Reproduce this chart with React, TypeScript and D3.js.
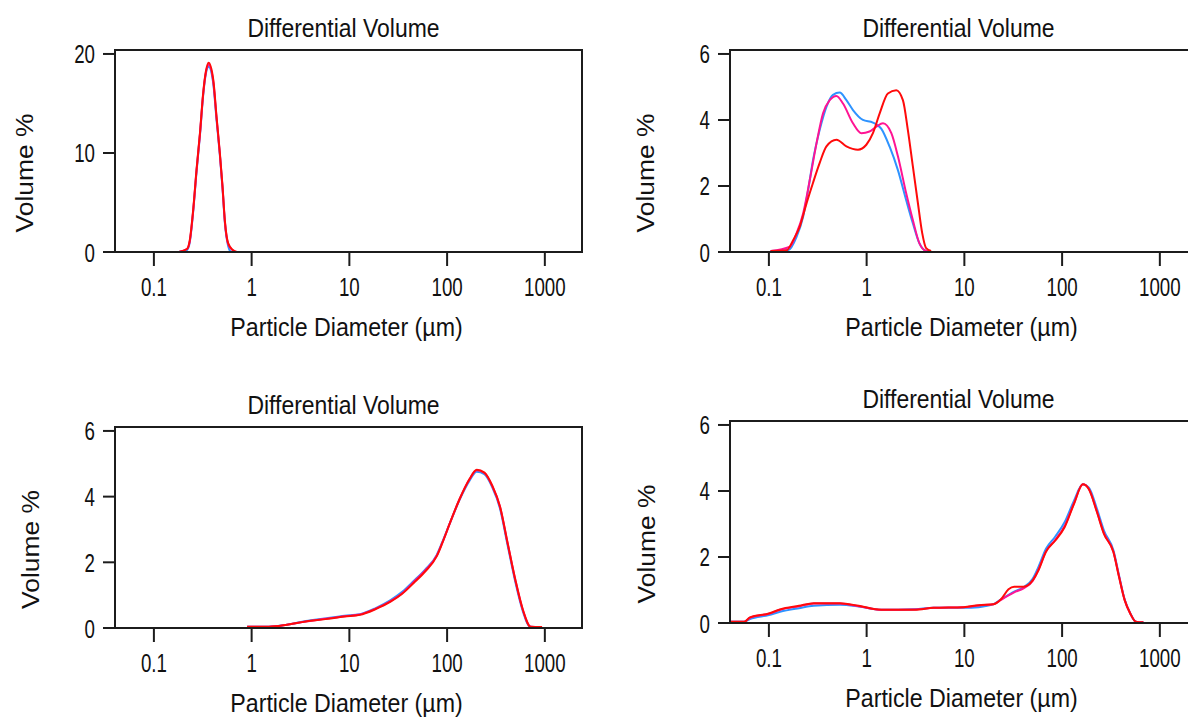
import React from 'react';
import * as d3 from 'd3';

// ---------- data ----------
const X_TICK_VALUES = [0.1, 1, 10, 100, 1000];
const X_TICK_LABELS = ['0.1', '1', '10', '100', '1000'];
const X_DOMAIN: [number, number] = [0.04, 2400];

const TITLE = 'Differential Volume';
const X_TITLE = 'Particle Diameter (\u00b5m)';
const Y_TITLE = 'Volume %';

const P1_Y_TICKS = [0, 10, 20];
const P2_Y_TICKS = [0, 2, 4, 6];
const P3_Y_TICKS = [0, 2, 4, 6];
const P4_Y_TICKS = [0, 2, 4, 6];

// Panel 1
const P1_BLUE_D = [0.18, 0.218, 0.233, 0.252, 0.273, 0.296, 0.319, 0.34, 0.363, 0.405, 0.438, 0.473, 0.504, 0.532, 0.575, 0.61];
const P1_BLUE_V = [0, 0.2, 1.0, 4.0, 8.1, 11.8, 15.8, 18.0, 18.7, 17.0, 13.3, 9.8, 6.4, 3.0, 0.6, 0];
const P1_PINK_D = [0.18, 0.218, 0.233, 0.252, 0.273, 0.296, 0.319, 0.34, 0.363, 0.405, 0.438, 0.473, 0.504, 0.532, 0.575, 0.643, 0.7];
const P1_PINK_V = [0, 0.3, 1.1, 4.1, 8.2, 11.9, 15.9, 18.1, 18.9, 17.2, 13.5, 9.9, 6.5, 3.1, 0.8, 0.15, 0];
const P1_RED_D = [0.18, 0.218, 0.233, 0.252, 0.273, 0.296, 0.319, 0.34, 0.363, 0.405, 0.438, 0.473, 0.504, 0.532, 0.575, 0.643, 0.706];
const P1_RED_V = [0, 0.3, 1.2, 4.2, 8.3, 12.0, 16.0, 18.2, 19.1, 17.4, 13.6, 10.0, 6.6, 3.2, 0.9, 0.2, 0];

// Panel 2
const P2_BLUE_D = [0.104, 0.157, 0.192, 0.224, 0.252, 0.283, 0.331, 0.388, 0.453, 0.53, 0.621, 0.725, 0.916, 1.16, 1.41, 1.72, 2.09, 2.54, 2.97, 3.47, 4.06, 4.3];
const P2_BLUE_V = [0.03, 0.05, 0.46, 1.07, 1.88, 2.79, 3.7, 4.4, 4.76, 4.83, 4.6, 4.3, 4.0, 3.92, 3.74, 3.19, 2.48, 1.57, 0.87, 0.26, 0.03, 0.02];
const P2_PINK_D = [0.104, 0.164, 0.192, 0.224, 0.262, 0.307, 0.358, 0.419, 0.491, 0.573, 0.725, 0.883, 1.07, 1.26, 1.47, 1.79, 2.09, 2.54, 2.97, 3.47, 4.06, 4.3];
const P2_PINK_V = [0.03, 0.16, 0.57, 1.17, 2.18, 3.29, 4.2, 4.6, 4.73, 4.5, 3.9, 3.6, 3.65, 3.8, 3.9, 3.6, 2.9, 1.78, 0.97, 0.26, 0.03, 0.02];
const P2_RED_D = [0.104, 0.152, 0.177, 0.207, 0.243, 0.283, 0.331, 0.388, 0.491, 0.621, 0.815, 0.993, 1.16, 1.36, 1.65, 2.01, 2.35, 2.64, 2.97, 3.34, 3.7, 4.06, 4.57];
const P2_RED_V = [0.03, 0.05, 0.36, 0.77, 1.48, 2.1, 2.7, 3.2, 3.4, 3.2, 3.1, 3.25, 3.6, 4.2, 4.8, 4.9, 4.6, 3.7, 2.6, 1.5, 0.58, 0.12, 0.03];

// Panel 3
const P3_BLUE_D = [0.9, 1.5, 2.3, 3.59, 5.67, 8.93, 12.8, 18.4, 26.4, 34.7, 45.5, 59.6, 78.2, 89.4, 107, 134, 169, 201, 241, 290, 347, 416, 499, 597, 700, 900];
const P3_BLUE_V = [0.04, 0.04, 0.1, 0.21, 0.29, 0.37, 0.42, 0.6, 0.85, 1.1, 1.43, 1.78, 2.22, 2.62, 3.2, 3.9, 4.48, 4.76, 4.68, 4.28, 3.65, 2.52, 1.4, 0.5, 0.04, 0.03];
const P3_PINK_D = [0.9, 1.5, 2.3, 3.59, 5.67, 8.93, 12.8, 18.4, 26.4, 34.7, 45.5, 59.6, 78.2, 89.4, 107, 134, 169, 201, 241, 290, 347, 416, 499, 597, 716, 930];
const P3_PINK_V = [0.04, 0.04, 0.1, 0.2, 0.28, 0.36, 0.41, 0.58, 0.82, 1.06, 1.4, 1.75, 2.2, 2.6, 3.2, 3.92, 4.52, 4.8, 4.72, 4.32, 3.7, 2.58, 1.46, 0.54, 0.04, 0.03];
const P3_RED_D = [0.9, 1.5, 2.3, 3.59, 5.67, 8.93, 12.8, 18.4, 26.4, 34.7, 45.5, 59.6, 78.2, 89.4, 107, 134, 169, 201, 241, 290, 347, 416, 499, 597, 716, 937];
const P3_RED_V = [0.04, 0.04, 0.1, 0.2, 0.27, 0.35, 0.4, 0.57, 0.8, 1.04, 1.37, 1.72, 2.18, 2.59, 3.2, 3.92, 4.53, 4.82, 4.73, 4.33, 3.71, 2.59, 1.47, 0.55, 0.04, 0.03];

// Panel 4
const P4_BLUE_D = [0.0396, 0.056, 0.064, 0.1, 0.13, 0.203, 0.288, 0.535, 0.83, 1.41, 3.12, 4.85, 9.8, 14, 19.9, 23.7, 28.3, 32.3, 40.3, 50.2, 57.3, 68.4, 85.2, 106, 132, 163, 188, 225, 268, 335, 382, 436, 498, 568, 678];
const P4_BLUE_V = [0.04, 0.04, 0.12, 0.24, 0.34, 0.45, 0.52, 0.55, 0.5, 0.4, 0.42, 0.46, 0.46, 0.48, 0.57, 0.72, 0.85, 0.95, 1.08, 1.35, 1.7, 2.25, 2.62, 3.05, 3.7, 4.2, 4.1, 3.5, 2.8, 2.2, 1.45, 0.72, 0.3, 0.04, 0.02];
const P4_PINK_D = [0.0396, 0.056, 0.064, 0.1, 0.13, 0.203, 0.288, 0.535, 0.83, 1.41, 3.12, 4.85, 9.8, 14, 19.9, 23.7, 28.3, 32.3, 40.3, 50.2, 57.3, 68.4, 85.2, 106, 132, 163, 188, 225, 268, 335, 382, 436, 498, 568, 678];
const P4_PINK_V = [0.04, 0.04, 0.16, 0.28, 0.4, 0.51, 0.59, 0.59, 0.51, 0.4, 0.41, 0.46, 0.48, 0.53, 0.57, 0.7, 0.84, 0.93, 1.05, 1.28, 1.62, 2.17, 2.52, 2.93, 3.62, 4.2, 4.06, 3.42, 2.72, 2.16, 1.42, 0.7, 0.29, 0.04, 0.02];
const P4_RED_D = [0.0396, 0.056, 0.064, 0.1, 0.13, 0.203, 0.288, 0.535, 0.83, 1.41, 3.12, 4.85, 9.8, 14, 19.9, 23.7, 28.3, 32.3, 40.3, 50.2, 57.3, 68.4, 85.2, 106, 132, 163, 188, 225, 268, 335, 382, 436, 498, 568, 678];
const P4_RED_V = [0.04, 0.04, 0.17, 0.29, 0.41, 0.52, 0.6, 0.6, 0.52, 0.4, 0.4, 0.46, 0.48, 0.54, 0.57, 0.72, 1.02, 1.1, 1.1, 1.3, 1.6, 2.16, 2.5, 2.9, 3.6, 4.2, 4.05, 3.4, 2.7, 2.15, 1.4, 0.7, 0.29, 0.04, 0.02];

// ---------- styles / layout ----------
const COLORS = { blue: '#2e93ff', pink: '#ff1493', red: '#ff0a0a' };
const FONT = '"Liberation Sans", Arial, sans-serif';
const AXIS = '#1c1c1c';
const PLOT_W = 467;

type Series = { d: number[]; v: number[]; color: string };

const PANELS = [
  { left: 115, top: 50, bottom: 252, yTicks: P1_Y_TICKS, yLabelX: 33,
    series: [
      { d: P1_BLUE_D, v: P1_BLUE_V, color: COLORS.blue },
      { d: P1_PINK_D, v: P1_PINK_V, color: COLORS.pink },
      { d: P1_RED_D, v: P1_RED_V, color: COLORS.red },
    ] },
  { left: 730, top: 50, bottom: 252, yTicks: P2_Y_TICKS, yLabelX: 654,
    series: [
      { d: P2_BLUE_D, v: P2_BLUE_V, color: COLORS.blue },
      { d: P2_PINK_D, v: P2_PINK_V, color: COLORS.pink },
      { d: P2_RED_D, v: P2_RED_V, color: COLORS.red },
    ] },
  { left: 115, top: 427, bottom: 628, yTicks: P3_Y_TICKS, yLabelX: 39,
    series: [
      { d: P3_BLUE_D, v: P3_BLUE_V, color: COLORS.blue },
      { d: P3_PINK_D, v: P3_PINK_V, color: COLORS.pink },
      { d: P3_RED_D, v: P3_RED_V, color: COLORS.red },
    ] },
  { left: 730, top: 421, bottom: 623, yTicks: P4_Y_TICKS, yLabelX: 655,
    series: [
      { d: P4_BLUE_D, v: P4_BLUE_V, color: COLORS.blue },
      { d: P4_PINK_D, v: P4_PINK_V, color: COLORS.pink },
      { d: P4_RED_D, v: P4_RED_V, color: COLORS.red },
    ] },
];

function SText({ x, y, size, sx = 1, anchor = 'middle', rotate = 0, children }: any) {
  const t = `translate(${x},${y})${rotate ? ` rotate(${rotate})` : ''} scale(${sx},1)`;
  return (
    <text transform={t} fontSize={size} fontFamily={FONT} textAnchor={anchor} fill="#111">
      {children}
    </text>
  );
}

function Panel({ left, top, bottom, yTicks, yLabelX, series }: any) {
  const right = left + PLOT_W;
  const x = d3.scaleLog().domain(X_DOMAIN).range([left, right]);
  const yMax = yTicks[yTicks.length - 1];
  const y = d3.scaleLinear().domain([0, yMax * 1.02]).range([bottom, top]);
  const line = d3
    .line<[number, number]>()
    .x((p) => x(p[0]))
    .y((p) => y(p[1]))
    .curve(d3.curveMonotoneX);
  const cx = (left + right) / 2;
  return (
    <g>
      <SText x={cx - 5} y={top - 13} size={25.5} sx={0.9}>{TITLE}</SText>
      {series.map((s: Series, i: number) => (
        <path
          key={i}
          d={line(s.d.map((dd, j) => [dd, s.v[j]] as [number, number])) || ''}
          fill="none"
          stroke={s.color}
          strokeWidth={2}
          strokeLinejoin="round"
        />
      ))}
      <rect x={left} y={top} width={PLOT_W} height={bottom - top} fill="none" stroke={AXIS} strokeWidth={2} />
      {yTicks.map((t: number) => (
        <g key={t}>
          <line x1={left - 12} x2={left} y1={y(t)} y2={y(t)} stroke={AXIS} strokeWidth={2} />
          <SText x={left - 20} y={y(t) + 9.5} size={26} sx={0.72} anchor="end">{String(t)}</SText>
        </g>
      ))}
      {X_TICK_VALUES.map((t, i) => (
        <g key={t}>
          <line x1={x(t)} x2={x(t)} y1={bottom} y2={bottom + 14} stroke={AXIS} strokeWidth={2} />
          <SText x={x(t)} y={bottom + 44} size={26} sx={0.72}>{X_TICK_LABELS[i]}</SText>
        </g>
      ))}
      <SText x={cx - 2} y={bottom + 84} size={25.5} sx={0.91}>{X_TITLE}</SText>
      <SText x={yLabelX} y={(top + bottom) / 2 + 22} size={24} sx={1.1} rotate={-90}>{Y_TITLE}</SText>
    </g>
  );
}

export default function App() {
  return (
    <svg
      width={1188}
      height={717}
      style={{ position: 'absolute', left: 0, top: 0, background: '#fff' }}
    >
      <rect x={0} y={0} width={1188} height={717} fill="#fff" />
      {PANELS.map((p, i) => (
        <Panel key={i} {...p} />
      ))}
    </svg>
  );
}
